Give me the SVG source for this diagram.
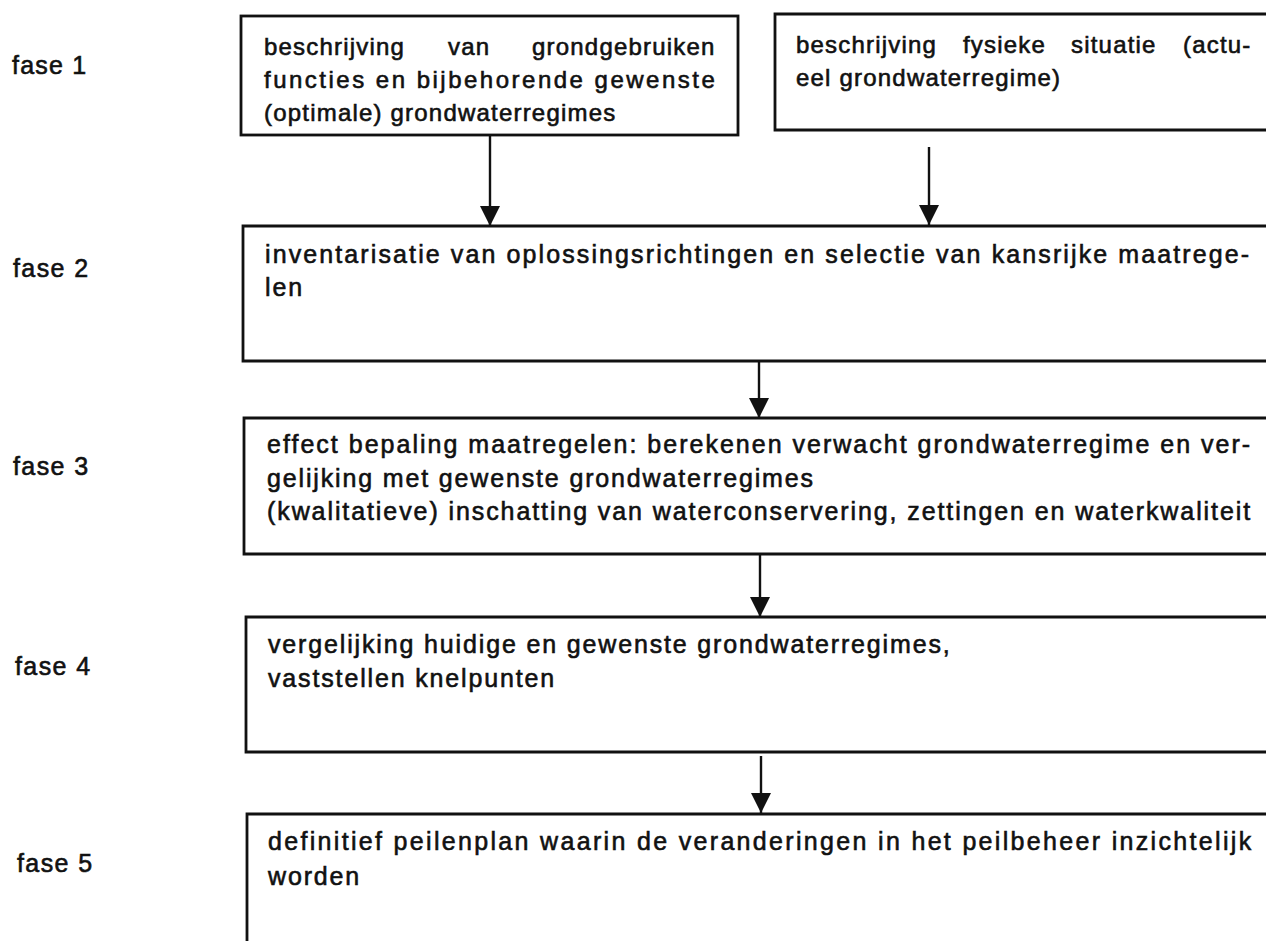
<svg xmlns="http://www.w3.org/2000/svg" width="1266" height="941" viewBox="0 0 1266 941">
<defs>
<style>
text{font-family:"Liberation Sans",Arial,sans-serif;font-size:25px;fill:#111;stroke:#111;stroke-width:0.6;letter-spacing:1.85px}
text.top{font-size:24px;letter-spacing:1.2px}
.box{fill:#fff;stroke:#111;stroke-width:2.8}
.edge{stroke:#111;stroke-width:2.4;fill:none}
</style>
<marker id="ah" viewBox="0 0 20 20" refX="20" refY="10" markerWidth="20" markerHeight="20" markerUnits="userSpaceOnUse" orient="auto">
<path d="M0,0 L20,10 L0,20 Z" fill="#111"/>
</marker>
</defs>
<rect width="1266" height="941" fill="#fff"/>

<g id="labels">
<text x="12" y="74" textLength="76" lengthAdjust="spacing">fase 1</text>
<text x="13" y="277" textLength="77" lengthAdjust="spacing">fase 2</text>
<text x="13" y="475" textLength="77" lengthAdjust="spacing">fase 3</text>
<text x="15" y="675" textLength="77" lengthAdjust="spacing">fase 4</text>
<text x="17" y="872" textLength="77" lengthAdjust="spacing">fase 5</text>
</g>

<g id="connectors">
<line class="edge" x1="490" y1="135" x2="490" y2="226" marker-end="url(#ah)"/>
<line class="edge" x1="929" y1="147" x2="929" y2="225" marker-end="url(#ah)"/>
<line class="edge" x1="759" y1="361" x2="759" y2="418" marker-end="url(#ah)"/>
<line class="edge" x1="760" y1="554" x2="760" y2="617" marker-end="url(#ah)"/>
<line class="edge" x1="761" y1="756" x2="761" y2="813" marker-end="url(#ah)"/>
</g>

<g id="node-grondgebruiken">
<rect class="box" x="241" y="16" width="497" height="119"/>
<text class="top" y="55"><tspan x="264">beschrijving</tspan><tspan x="448">van</tspan><tspan x="532">grondgebruiken</tspan></text>
<text class="top" x="264" y="88" textLength="452" lengthAdjust="spacing">functies en bijbehorende gewenste</text>
<text class="top" x="264" y="121">(optimale) grondwaterregimes</text>
</g>

<g id="node-fysieke-situatie">
<path class="box" d="M1270,14 L775,14 L775,130 L1270,130"/>
<text class="top" y="53"><tspan x="796">beschrijving</tspan><tspan x="963">fysieke</tspan><tspan x="1071">situatie</tspan><tspan x="1183">(actu-</tspan></text>
<text class="top" x="796" y="86">eel grondwaterregime)</text>
</g>

<g id="node-fase2">
<path class="box" d="M1270,226 L243,226 L243,361 L1270,361"/>
<text x="265" y="263" textLength="986" lengthAdjust="spacing">inventarisatie van oplossingsrichtingen en selectie van kansrijke maatrege-</text>
<text x="265" y="296">len</text>
</g>

<g id="node-fase3">
<path class="box" d="M1270,418 L244,418 L244,554 L1270,554"/>
<text x="267" y="453" textLength="985" lengthAdjust="spacing">effect bepaling maatregelen: berekenen verwacht grondwaterregime en ver-</text>
<text x="267" y="487">gelijking met gewenste grondwaterregimes</text>
<text x="267" y="520" textLength="985" lengthAdjust="spacing">(kwalitatieve) inschatting van waterconservering, zettingen en waterkwaliteit</text>
</g>

<g id="node-fase4">
<path class="box" d="M1270,617 L246,617 L246,752 L1270,752"/>
<text x="268" y="653">vergelijking huidige en gewenste grondwaterregimes,</text>
<text x="268" y="687">vaststellen knelpunten</text>
</g>

<g id="node-fase5">
<path class="box" d="M1270,814 L247,814 L247,945"/>
<text x="268" y="850" textLength="985" lengthAdjust="spacing">definitief peilenplan waarin de veranderingen in het peilbeheer inzichtelijk</text>
<text x="268" y="885">worden</text>
</g>
</svg>
